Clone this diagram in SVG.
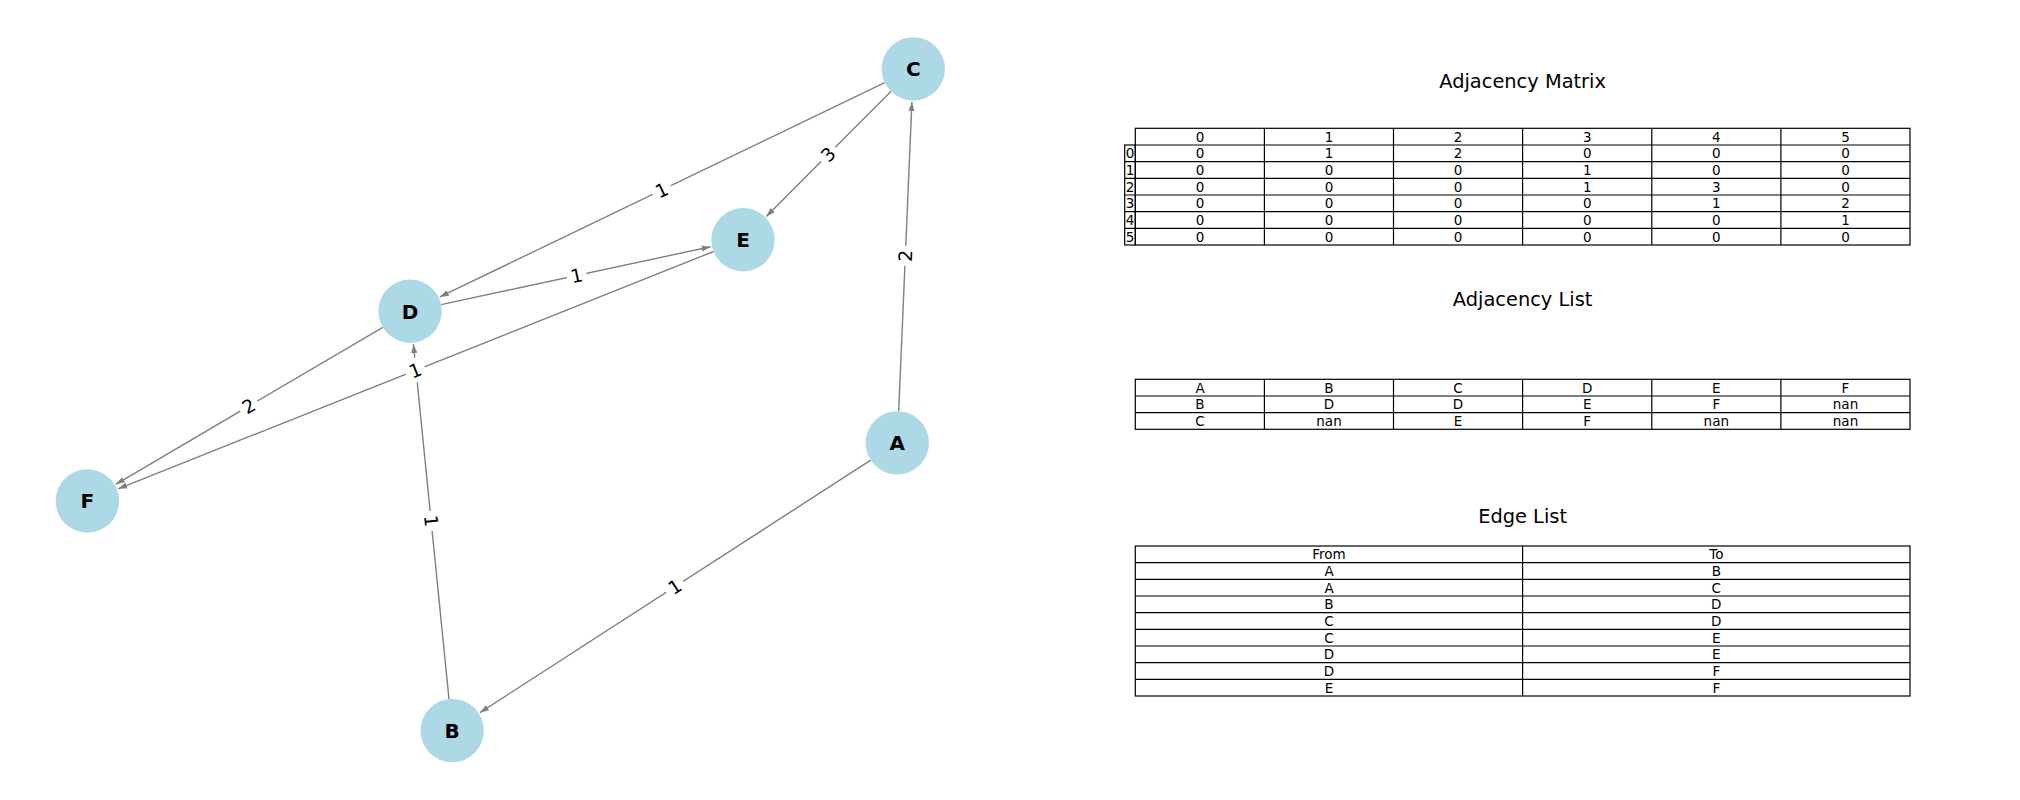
<svg xmlns="http://www.w3.org/2000/svg" width="2020" height="800" viewBox="0 0 2020 800">
<style>
.edge{stroke:#808080;stroke-width:1.4;fill:none}
.node{fill:#ADD8E6}
.nl{font-family:"DejaVu Sans",sans-serif;font-weight:bold;font-size:20px;text-anchor:middle;fill:#000}
.el{font-family:"DejaVu Sans",sans-serif;font-size:18.5px;text-anchor:middle;fill:#000}
.lb{fill:#fff}
.title{font-family:"DejaVu Sans",sans-serif;font-size:19.4px;text-anchor:middle;fill:#000}
.grid{stroke:#000;stroke-width:1.2;fill:none}
.ct{font-family:"DejaVu Sans",sans-serif;font-size:13.5px;text-anchor:middle;fill:#000}
</style>
<defs>
<marker id="arr" markerUnits="userSpaceOnUse" markerWidth="10" markerHeight="7" refX="9" refY="3.5" orient="auto">
<path d="M0,0.5 L9,3.5 L0,6.5 z" fill="#808080"/>
</marker>
</defs>
<rect width="2020" height="800" fill="#fff"/>
<g id="connectors">
<line class="edge" x1="870.7" y1="460.1" x2="479.9" y2="712.7" marker-end="url(#arr)"/>
<line class="edge" x1="898.7" y1="411.2" x2="911.9" y2="101.9" marker-end="url(#arr)"/>
<line class="edge" x1="449.0" y1="699.1" x2="413.4" y2="344.0" marker-end="url(#arr)"/>
<line class="edge" x1="884.7" y1="82.7" x2="439.8" y2="296.9" marker-end="url(#arr)"/>
<line class="edge" x1="890.9" y1="91.4" x2="766.3" y2="216.4" marker-end="url(#arr)"/>
<line class="edge" x1="441.1" y1="304.6" x2="710.7" y2="246.7" marker-end="url(#arr)"/>
<line class="edge" x1="382.8" y1="327.3" x2="115.8" y2="484.3" marker-end="url(#arr)"/>
<line class="edge" x1="713.6" y1="251.5" x2="118.1" y2="488.8" marker-end="url(#arr)"/>
<g transform="translate(674.75,586.75) rotate(-32.88)"><rect class="lb" x="-10" y="-12" width="20" height="24" rx="4"/><text class="el" y="6.7">1</text></g>
<g transform="translate(905.3,255.9) rotate(-87.55)"><rect class="lb" x="-10" y="-12" width="20" height="24" rx="4"/><text class="el" y="6.7">2</text></g>
<g transform="translate(431.15,520.9) rotate(84.27)"><rect class="lb" x="-10" y="-12" width="20" height="24" rx="4"/><text class="el" y="6.7">1</text></g>
<g transform="translate(661.7,190.05) rotate(-25.71)"><rect class="lb" x="-10" y="-12" width="20" height="24" rx="4"/><text class="el" y="6.7">1</text></g>
<g transform="translate(828.15,154.35) rotate(-45.1)"><rect class="lb" x="-10" y="-12" width="20" height="24" rx="4"/><text class="el" y="6.7">3</text></g>
<g transform="translate(576.55,275.5) rotate(-12.1)"><rect class="lb" x="-10" y="-12" width="20" height="24" rx="4"/><text class="el" y="6.7">1</text></g>
<g transform="translate(248.75,406.1) rotate(-30.46)"><rect class="lb" x="-10" y="-12" width="20" height="24" rx="4"/><text class="el" y="6.7">2</text></g>
<g transform="translate(415.2,370.4) rotate(-21.72)"><rect class="lb" x="-10" y="-12" width="20" height="24" rx="4"/><text class="el" y="6.7">1</text></g>
</g>
<g id="node-A"><circle class="node" cx="897.3" cy="442.9" r="31.7"/><text class="nl" x="897.3" y="450.2">A</text></g>
<g id="node-B"><circle class="node" cx="452.2" cy="730.6" r="31.7"/><text class="nl" x="452.2" y="737.9">B</text></g>
<g id="node-C"><circle class="node" cx="913.3" cy="68.9" r="31.7"/><text class="nl" x="913.3" y="76.2">C</text></g>
<g id="node-D"><circle class="node" cx="410.1" cy="311.2" r="31.7"/><text class="nl" x="410.1" y="318.5">D</text></g>
<g id="node-E"><circle class="node" cx="743.0" cy="239.8" r="31.7"/><text class="nl" x="743.0" y="247.1">E</text></g>
<g id="node-F"><circle class="node" cx="87.4" cy="501.0" r="31.7"/><text class="nl" x="87.4" y="508.3">F</text></g>

<g id="adjacency-matrix">
<text class="title" x="1522.6" y="88.3">Adjacency Matrix</text>
<rect class="grid" x="1135.3" y="128.3" width="774.7" height="116.7"/>
<rect class="grid" x="1124.7" y="145" width="10.6" height="100"/>
<path class="grid" d="M1124.7,161.7H1910M1124.7,178.3H1910M1124.7,195H1910M1124.7,211.7H1910M1124.7,228.3H1910M1135.3,145H1910M1264.4,128.3V245M1393.5,128.3V245M1522.6,128.3V245M1651.8,128.3V245M1780.9,128.3V245"/>
<g class="ct">
<text x="1200" y="141.5">0</text><text x="1329" y="141.5">1</text><text x="1458" y="141.5">2</text><text x="1587.2" y="141.5">3</text><text x="1716.3" y="141.5">4</text><text x="1845.5" y="141.5">5</text>
<text x="1130" y="158.2">0</text><text x="1130" y="174.9">1</text><text x="1130" y="191.5">2</text><text x="1130" y="208.2">3</text><text x="1130" y="224.9">4</text><text x="1130" y="241.5">5</text>
<text x="1200" y="158.2">0</text><text x="1329" y="158.2">1</text><text x="1458" y="158.2">2</text><text x="1587.2" y="158.2">0</text><text x="1716.3" y="158.2">0</text><text x="1845.5" y="158.2">0</text>
<text x="1200" y="174.9">0</text><text x="1329" y="174.9">0</text><text x="1458" y="174.9">0</text><text x="1587.2" y="174.9">1</text><text x="1716.3" y="174.9">0</text><text x="1845.5" y="174.9">0</text>
<text x="1200" y="191.5">0</text><text x="1329" y="191.5">0</text><text x="1458" y="191.5">0</text><text x="1587.2" y="191.5">1</text><text x="1716.3" y="191.5">3</text><text x="1845.5" y="191.5">0</text>
<text x="1200" y="208.2">0</text><text x="1329" y="208.2">0</text><text x="1458" y="208.2">0</text><text x="1587.2" y="208.2">0</text><text x="1716.3" y="208.2">1</text><text x="1845.5" y="208.2">2</text>
<text x="1200" y="224.9">0</text><text x="1329" y="224.9">0</text><text x="1458" y="224.9">0</text><text x="1587.2" y="224.9">0</text><text x="1716.3" y="224.9">0</text><text x="1845.5" y="224.9">1</text>
<text x="1200" y="241.5">0</text><text x="1329" y="241.5">0</text><text x="1458" y="241.5">0</text><text x="1587.2" y="241.5">0</text><text x="1716.3" y="241.5">0</text><text x="1845.5" y="241.5">0</text>
</g>
</g>

<g id="adjacency-list">
<text class="title" x="1522.6" y="306">Adjacency List</text>
<rect class="grid" x="1135.3" y="379.3" width="774.7" height="50"/>
<path class="grid" d="M1135.3,396H1910M1135.3,412.7H1910M1264.4,379.3V429.3M1393.5,379.3V429.3M1522.6,379.3V429.3M1651.8,379.3V429.3M1780.9,379.3V429.3"/>
<g class="ct">
<text x="1200" y="392.5">A</text><text x="1329" y="392.5">B</text><text x="1458" y="392.5">C</text><text x="1587.2" y="392.5">D</text><text x="1716.3" y="392.5">E</text><text x="1845.5" y="392.5">F</text>
<text x="1200" y="409.2">B</text><text x="1329" y="409.2">D</text><text x="1458" y="409.2">D</text><text x="1587.2" y="409.2">E</text><text x="1716.3" y="409.2">F</text><text x="1845.5" y="409.2">nan</text>
<text x="1200" y="425.9">C</text><text x="1329" y="425.9">nan</text><text x="1458" y="425.9">E</text><text x="1587.2" y="425.9">F</text><text x="1716.3" y="425.9">nan</text><text x="1845.5" y="425.9">nan</text>
</g>
</g>

<g id="edge-list">
<text class="title" x="1522.6" y="522.5">Edge List</text>
<rect class="grid" x="1135.3" y="546" width="774.7" height="150"/>
<path class="grid" d="M1135.3,562.7H1910M1135.3,579.3H1910M1135.3,596H1910M1135.3,612.7H1910M1135.3,629.3H1910M1135.3,646H1910M1135.3,662.7H1910M1135.3,679.3H1910M1522.6,546V696"/>
<g class="ct">
<text x="1329" y="559.2">From</text><text x="1716.3" y="559.2">To</text>
<text x="1329" y="575.9">A</text><text x="1716.3" y="575.9">B</text>
<text x="1329" y="592.5">A</text><text x="1716.3" y="592.5">C</text>
<text x="1329" y="609.2">B</text><text x="1716.3" y="609.2">D</text>
<text x="1329" y="625.9">C</text><text x="1716.3" y="625.9">D</text>
<text x="1329" y="642.5">C</text><text x="1716.3" y="642.5">E</text>
<text x="1329" y="659.2">D</text><text x="1716.3" y="659.2">E</text>
<text x="1329" y="675.9">D</text><text x="1716.3" y="675.9">F</text>
<text x="1329" y="692.5">E</text><text x="1716.3" y="692.5">F</text>
</g>
</g>
</svg>
